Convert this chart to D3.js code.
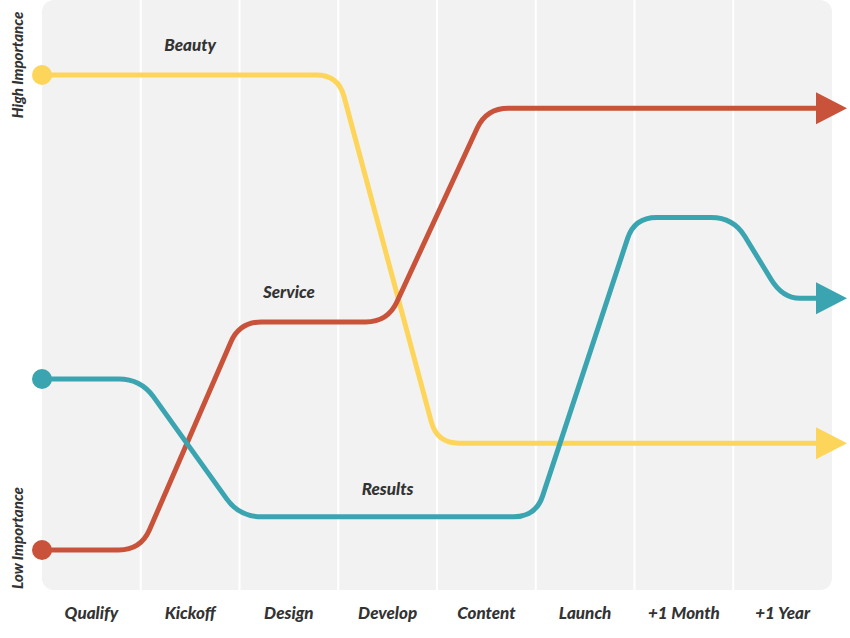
<html>
<head>
<script src="https://cdn.jsdelivr.net/npm/d3@7"></script>
<style>
  body { margin: 0; background: #fff; }
  text { font-family: Lato, "Open Sans", sans-serif; font-weight: 900; font-style: italic; fill: #333; }
</style>
</head>
<body>
<svg id="chart" width="850" height="638"></svg>
<script>
// stages along the bottom
var stages = ["Qualify", "Kickoff", "Design", "Develop", "Content", "Launch", "+1 Month", "+1 Year"];

// importance 0 (low) .. 100 (high), x in stage units
var beautyX = [0, 1, 2, 3, 4, 8];
var beautyY = [100, 100, 100, 100, 22.5, 22.5];
var serviceX = [0, 1, 2, 3.5, 4.5, 8];
var serviceY = [0, 0, 48, 48, 93, 93];
var resultsX = [0, 1, 2, 5, 6, 7, 7.5, 8];
var resultsY = [36, 36, 7, 7, 70, 70, 53, 53];

var series = [
  { name: "Beauty", color: "#fdd55b", xs: beautyX, ys: beautyY, labelX: 1.5, labelY: 105 },
  { name: "Service", color: "#c9533a", xs: serviceX, ys: serviceY, labelX: 2.5, labelY: 53 },
  { name: "Results", color: "#3ba4b1", xs: resultsX, ys: resultsY, labelX: 3.5, labelY: 11.5 }
];

var svg = d3.select("#chart");
var x = d3.scaleLinear().domain([0, 8]).range([42, 832]);
var y = d3.scaleLinear().domain([0, 100]).range([550, 75]);

//Panel and column dividers
svg.append("rect").attr("x", 42).attr("y", 0).attr("width", 790).attr("height", 590)
  .attr("rx", 12).attr("fill", "#f2f2f2");
svg.selectAll(".divider").data(d3.range(1, 8)).enter().append("line")
  .attr("x1", function(d) { return x(d); }).attr("x2", function(d) { return x(d); })
  .attr("y1", 0).attr("y2", 590).attr("stroke", "#fff").attr("stroke-width", 2);

//Stage labels
svg.selectAll(".stage").data(stages).enter().append("text")
  .attr("x", function(d, i) { return x(i + 0.5); }).attr("y", 619)
  .attr("text-anchor", "middle").attr("font-size", 17).text(function(d) { return d; });

//Axis labels
svg.append("text").attr("transform", "translate(23,65) rotate(-90)")
  .attr("text-anchor", "middle").attr("font-size", 15).text("High Importance");
svg.append("text").attr("transform", "translate(23,538) rotate(-90)")
  .attr("text-anchor", "middle").attr("font-size", 15).text("Low Importance");

//Path with rounded corners
function roundedPath(pts, r) {
  var p = "M" + pts[0][0] + "," + pts[0][1];
  for (var i = 1; i < pts.length - 1; i++) {
    var a = pts[i - 1], b = pts[i], c = pts[i + 1];
    var d1 = Math.hypot(b[0] - a[0], b[1] - a[1]), d2 = Math.hypot(c[0] - b[0], c[1] - b[1]);
    var r1 = Math.min(r, d1 / 2), r2 = Math.min(r, d2 / 2);
    var p1 = [b[0] - (b[0] - a[0]) * r1 / d1, b[1] - (b[1] - a[1]) * r1 / d1];
    var p2 = [b[0] + (c[0] - b[0]) * r2 / d2, b[1] + (c[1] - b[1]) * r2 / d2];
    p += "L" + p1[0] + "," + p1[1] + "Q" + b[0] + "," + b[1] + " " + p2[0] + "," + p2[1];
  }
  var last = pts[pts.length - 1];
  return p + "L" + last[0] + "," + last[1];
}

series.forEach(function(s) {
  var pts = s.xs.map(function(v, i) { return [x(v), y(s.ys[i])]; });
  pts[pts.length - 1][0] -= 15;
  svg.append("path").attr("d", roundedPath(pts, 22)).attr("fill", "none")
    .attr("stroke", s.color).attr("stroke-width", 5);
  svg.append("circle").attr("cx", x(s.xs[0])).attr("cy", y(s.ys[0])).attr("r", 10).attr("fill", s.color);
  var ex = x(8), ey = y(s.ys[s.ys.length - 1]);
  svg.append("path").attr("d", "M" + (ex - 16) + "," + (ey - 16) + "L" + (ex + 15) + "," + ey + "L" + (ex - 16) + "," + (ey + 16) + "Z")
    .attr("fill", s.color);
  svg.append("text").attr("x", x(s.labelX)).attr("y", y(s.labelY)).attr("text-anchor", "middle")
    .attr("font-size", 17).text(s.name);
});
</script>
</body>
</html>
